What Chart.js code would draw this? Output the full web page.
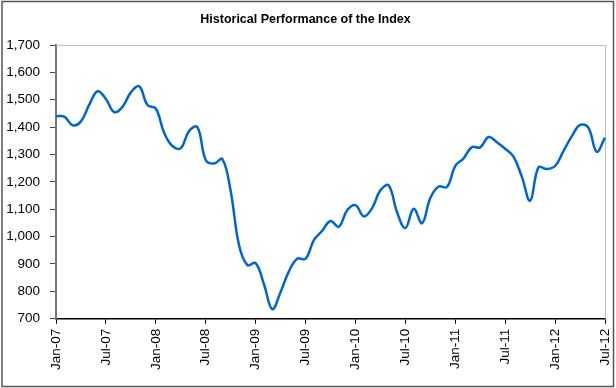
<!DOCTYPE html>
<html>
<head>
<meta charset="utf-8">
<script src="https://cdn.jsdelivr.net/npm/chart.js@4.4.1/dist/chart.umd.min.js"></script>
<style>
html,body{margin:0;padding:0;background:#fff;}
#wrap{width:616px;height:388px;position:relative;}
</style>
</head>
<body>
<div id="wrap"><canvas id="c" width="616" height="388"></canvas></div>
<script>
const months = ['Jan','Feb','Mar','Apr','May','Jun','Jul','Aug','Sep','Oct','Nov','Dec'];
const categories = [];
for (let y = 7; y <= 12; y++) {
  for (let m = 0; m < 12; m++) {
    if (y === 12 && m > 6) break;
    categories.push(months[m] + '-' + String(y).padStart(2, '0'));
  }
}
const tickLabels = ['Jan-07','Jul-07','Jan-08','Jul-08','Jan-09','Jul-09','Jan-10','Jul-10','Jan-11','Jul-11','Jan-12','Jul-12'];
const indexValues = [
  1440, 1438, 1407, 1421, 1482, 1531, 1503, 1455, 1474, 1527, 1549, 1481,
  1468, 1379, 1331, 1323, 1386, 1400, 1280, 1267, 1283, 1166, 969, 896,
  903, 826, 735, 798, 873, 919, 919, 987, 1021, 1057, 1036, 1096,
  1115, 1074, 1104, 1169, 1187, 1089, 1031, 1102, 1049, 1141, 1183, 1181,
  1258, 1286, 1327, 1326, 1364, 1345, 1321, 1292, 1219, 1131, 1253, 1247,
  1258, 1312, 1366, 1408, 1398, 1310, 1362
];

const frame = {
  id: 'frame',
  beforeDatasetsDraw(chart) {
    const {ctx, chartArea: a} = chart;
    ctx.save();
    ctx.strokeStyle = '#c0c0c0';
    ctx.lineWidth = 1;
    ctx.beginPath();
    ctx.moveTo(a.left, a.top + 0.5);
    ctx.lineTo(a.right + 0.5, a.top + 0.5);
    ctx.lineTo(a.right + 0.5, a.bottom);
    ctx.stroke();
    ctx.restore();
  },
  afterDraw(chart) {
    const ctx = chart.ctx;
    ctx.save();
    ctx.strokeStyle = '#555';
    ctx.lineWidth = 1.5;
    ctx.strokeRect(2, 1.5, 611.5, 385);
    ctx.restore();
  }
};

const tickFont = { family: 'Liberation Sans, Arial, sans-serif', size: 13.5 };

new Chart(document.getElementById('c'), {
  type: 'line',
  data: {
    labels: categories,
    datasets: [{
      data: indexValues,
      borderColor: '#0066cc',
      borderWidth: 2.5,
      pointRadius: 0,
      tension: 0.4,
      fill: false
    }]
  },
  options: {
    responsive: false,
    animation: false,
    devicePixelRatio: 1,
    layout: { padding: { left: 6, right: 11, top: 0, bottom: 13 } },
    plugins: {
      legend: { display: false },
      tooltip: { enabled: false },
      title: {
        display: true,
        text: 'Historical Performance of the Index',
        color: '#000',
        font: { family: 'Liberation Sans, Arial, sans-serif', size: 12.5, weight: 'bold' },
        padding: { top: 12, bottom: 18 }
      }
    },
    scales: {
      x: {
        type: 'category',
        offset: false,
        afterFit(scale) { scale.paddingLeft = 0; scale.paddingRight = 0; },
        grid: {
          drawOnChartArea: false,
          drawTicks: true,
          tickLength: 5,
          color: (c) => (c.index % 6 === 0 ? '#000' : 'rgba(0,0,0,0)'),
          lineWidth: 1
        },
        border: { color: '#000', width: 1.5 },
        ticks: {
          autoSkip: false,
          maxRotation: 90,
          minRotation: 90,
          padding: 5,
          color: '#000',
          font: tickFont,
          callback: function(v, i) {
            const lab = categories[i];
            return tickLabels.includes(lab) ? lab : '';
          }
        }
      },
      y: {
        min: 700,
        max: 1700,
        afterFit(scale) { scale.width = 50; },
        grid: {
          drawOnChartArea: false,
          drawTicks: true,
          tickLength: 6,
          color: '#444',
          lineWidth: 1
        },
        border: { color: '#777', width: 2 },
        ticks: {
          stepSize: 100,
          padding: 10,
          color: '#000',
          font: tickFont,
          callback: (v) => v.toLocaleString('en-US')
        }
      }
    }
  },
  plugins: [frame]
});
</script>
</body>
</html>
